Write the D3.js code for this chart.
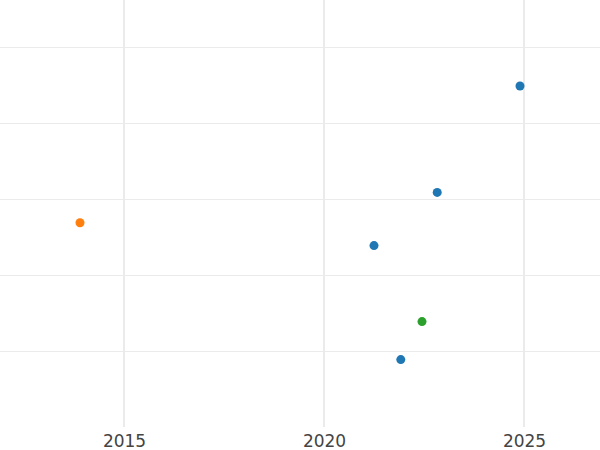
<!DOCTYPE html>
<html><head><meta charset="utf-8">
<script src="https://cdn.jsdelivr.net/npm/d3@7"></script>
<style>body{margin:0;background:#fff}</style></head>
<body><svg id="c" width="600" height="450"></svg>
<script>
const xs = [2024.9, 2022.83, 2021.25, 2013.9, 2022.45, 2021.92];
const ys = [4.5, 3.1, 2.4, 2.7, 1.4, 0.9];
const groups = ["a","a","a","b","c","a"];
const colors = {a:"#1f77b4", b:"#ff7f0e", c:"#2ca02c"};
const xTicks = [2015, 2020, 2025];
const yTicks = [1, 2, 3, 4, 5];

const svg = d3.select("#c");
const x = d3.scaleLinear().domain([2011.9, 2026.9]).range([0, 600]);
const y = d3.scaleLinear().domain([0, 5]).range([428, 48]);

svg.append("g").selectAll("line").data(yTicks).join("line")
  .attr("x1",0).attr("x2",600).attr("y1",d=>y(d)-0.5).attr("y2",d=>y(d)-0.5)
  .attr("stroke","#ebebeb").attr("stroke-width",1);
svg.append("g").selectAll("line").data(xTicks).join("line")
  .attr("x1",d=>x(d)).attr("x2",d=>x(d)).attr("y1",0).attr("y2",427)
  .attr("stroke","#ebebeb").attr("stroke-width",2);

const ax = svg.append("g").attr("transform","translate(0,427)")
  .call(d3.axisBottom(x).tickValues(xTicks).tickFormat(d3.format("d")).tickSize(0).tickPadding(8));
ax.select(".domain").remove();
ax.selectAll("text").attr("font-family","DejaVu Sans").attr("font-size",17).attr("fill","#444");

svg.append("g").selectAll("circle").data(xs).join("circle")
  .attr("cx",(d)=>x(d)).attr("cy",(d,i)=>y(ys[i])).attr("r",4.5)
  .attr("fill",(d,i)=>colors[groups[i]]);
</script></body></html>
